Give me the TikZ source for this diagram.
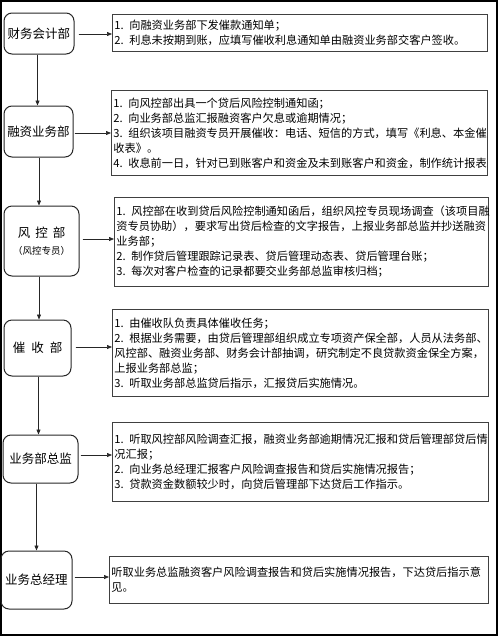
\documentclass[tikz,border=0pt]{standalone}
\usepackage{fontspec}
\setmainfont{Noto Sans CJK SC}
\usetikzlibrary{arrows.meta,calc}
\begin{document}
\begin{tikzpicture}[x=1pt,y=-1pt,
  dept/.style={draw=black!85, line width=1pt, rounded corners=8pt, font=\fontsize{12.5}{16}\selectfont, align=center, inner sep=0pt},
  note/.style={draw=black!75, line width=0.8pt, font=\fontsize{11.2}{15}\selectfont, align=left, inner xsep=2pt, inner ysep=0pt, anchor=north west},
  arr/.style={-{Triangle[length=5pt,width=4pt]}, line width=0.7pt, draw=black!85, fill=black!85}]
\useasboundingbox (0,0) rectangle (500,638);
\draw[line width=2pt] (1,1) rectangle (497,635);

% left department boxes
\node[dept, minimum width=70, minimum height=41] (A) at (39,33.5) {财务会计部};
\node[dept, minimum width=69, minimum height=51] (B) at (38.5,131.5) {融资业务部};
\node[dept, minimum width=75, minimum height=70] (C) at (41.5,241) {风\hspace{5pt}控\hspace{5pt}部\\[1pt]{\fontsize{9.5}{12}\selectfont（风控专员）}};
\node[dept, minimum width=67, minimum height=56] (D) at (37.5,348) {催\hspace{6pt}收\hspace{6pt}部};
\node[dept, minimum width=75, minimum height=48] (E) at (40.5,459) {业务部总监};
\node[dept, minimum width=71, minimum height=58] (F) at (36.5,580) {业务总经理};

% text boxes
\node[note, text width=371pt, minimum height=37] (TA) at (112,14) {1. 向融资业务部下发催款通知单；\\2. 利息未按期到账，应填写催收利息通知单由融资业务部交客户签收。};
\node[note, text width=372pt, minimum height=85] (TB) at (111,90) {1. 向风控部出具一个贷后风险控制通知函；\\2. 向业务部总监汇报融资客户欠息或逾期情况；\\3. 组织该项目融资专员开展催收：电话、短信的方式，填写《利息、本金催\\收表》。\\4. 收息前一日，针对已到账客户和资金及未到账客户和资金，制作统计报表};
\node[note, text width=370pt, minimum height=89] (TC) at (114,197) {1. 风控部在收到贷后风险控制通知函后，组织风控专员现场调查（该项目融\\资专员协助），要求写出贷后检查的文字报告，上报业务部总监并抄送融资\\业务部；\\2. 制作贷后管理跟踪记录表、贷后管理动态表、贷后管理台账；\\3. 每次对客户检查的记录都要交业务部总监审核归档；};
\node[note, text width=372pt, minimum height=87] (TD) at (112,309) {1. 由催收队负责具体催收任务；\\2. 根据业务需要，由贷后管理部组织成立专项资产保全部，人员从法务部、\\风控部、融资业务部、财务会计部抽调，研究制定不良贷款资金保全方案，\\上报业务部总监；\\3. 听取业务部总监贷后指示，汇报贷后实施情况。};
\node[note, text width=372pt, minimum height=79] (TE) at (112,422) {1. 听取风控部风险调查汇报，融资业务部逾期情况汇报和贷后管理部贷后情\\况汇报；\\2. 向业务总经理汇报客户风险调查报告和贷后实施情况报告；\\3. 贷款资金数额较少时，向贷后管理部下达贷后工作指示。};
\node[note, text width=375pt, minimum height=47] (TF) at (109,556) {听取业务总监融资客户风险调查报告和贷后实施情况报告，下达贷后指示意\\见。};

% arrow rows
\coordinate (yA) at (0,34);
\coordinate (yB) at (0,133);
\coordinate (yC) at (0,239);
\coordinate (yD) at (0,347);
\coordinate (yE) at (0,455);
\coordinate (yF) at (0,577);
\draw[arr, shorten <=4pt] (A.east |- yA) -- (TA.west |- yA);
\draw[arr, shorten <=1pt] (B.east |- yB) -- (TB.west |- yB);
\draw[arr, shorten <=3pt] (C.east |- yC) -- (TC.west |- yC);
\draw[arr, shorten <=4pt] (D.east |- yD) -- (TD.west |- yD);
\draw[arr, shorten <=2pt] (E.east |- yE) -- (TE.west |- yE);
\draw[arr, shorten <=2pt] (F.east |- yF) -- (TF.west |- yF);

% vertical flow
\coordinate (x1) at (37.5,0);
\coordinate (x2) at (39,0);
\coordinate (x3) at (39,0);
\coordinate (x4) at (38.5,0);
\coordinate (x5) at (36.5,0);
\draw[arr] (A.south -| x1) -- (B.north -| x1);
\draw[arr] (B.south -| x2) -- (C.north -| x2);
\draw[arr] (C.south -| x3) -- (D.north -| x3);
\draw[arr] (D.south -| x4) -- (E.north -| x4);
\draw[arr] (E.south -| x5) -- (F.north -| x5);
\end{tikzpicture}
\end{document}
